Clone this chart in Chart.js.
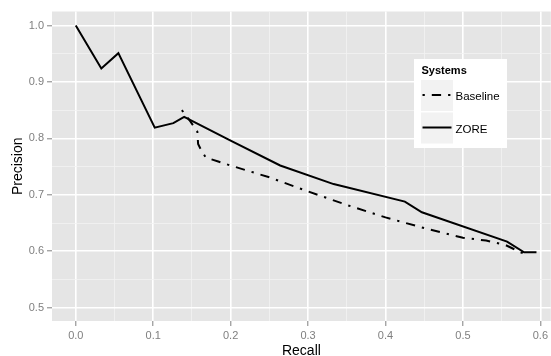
<!DOCTYPE html>
<html>
<head>
<meta charset="utf-8">
<script src="https://cdn.jsdelivr.net/npm/chart.js@4.4.1/dist/chart.umd.min.js"></script>
<style>
  html, body { margin: 0; padding: 0; background: #fff; }
  #wrap { position: relative; width: 551px; height: 356px; }
</style>
</head>
<body>
<div id="wrap"><canvas id="chart"></canvas></div>
<script>
// series values
const zoreRecall = [0, 0.033, 0.055, 0.102, 0.126, 0.14, 0.2, 0.264, 0.333, 0.425, 0.447, 0.557, 0.579, 0.595];
const zorePrecision = [1.0, 0.924, 0.951, 0.819, 0.827, 0.838, 0.796, 0.752, 0.719, 0.688, 0.669, 0.617, 0.598, 0.598];

const baseRecall = [0.137, 0.148, 0.157, 0.158, 0.162, 0.168, 0.184, 0.202, 0.25, 0.3, 0.35, 0.4, 0.45, 0.5, 0.53, 0.555, 0.578];
const basePrecision = [0.85, 0.83, 0.812, 0.79, 0.779, 0.766, 0.759, 0.751, 0.731, 0.706, 0.682, 0.66, 0.641, 0.624, 0.619, 0.611, 0.596];

// tick labels (major) and minor grid positions
const xTicks = [0.0, 0.1, 0.2, 0.3, 0.4, 0.5, 0.6];
const xMinor = [0.05, 0.15, 0.25, 0.35, 0.45, 0.55];
const yTicks = [0.5, 0.6, 0.7, 0.8, 0.9, 1.0];
const yMinor = [0.55, 0.65, 0.75, 0.85, 0.95];

const seriesNames = ["Baseline", "ZORE"];

const toPoints = (xs, ys) => xs.map((x, i) => ({ x: x, y: ys[i] }));
const isMajor = (v, list) => list.some((t) => Math.abs(t - v) < 1e-6);

Chart.defaults.font.family = "'Liberation Sans', Arial, sans-serif";

const gridOpts = (majors) => ({
  drawOnChartArea: true,
  color: (c) => (c.tick && isMajor(c.tick.value, majors) ? "#ffffff" : "#f2f2f2"),
  lineWidth: (c) => (c.tick && isMajor(c.tick.value, majors) ? 1.6 : 0.8),
  tickColor: (c) => (c.tick && isMajor(c.tick.value, majors) ? "#7f7f7f" : "rgba(0,0,0,0)"),
  tickLength: 5,
  tickWidth: 1,
});

// grey panel behind the grid
const panelBg = {
  id: "panelBg",
  beforeDraw: (chart) => {
    const { ctx, chartArea } = chart;
    ctx.save();
    ctx.fillStyle = "#e5e5e5";
    ctx.fillRect(chartArea.left, chartArea.top, chartArea.right - chartArea.left, chartArea.bottom - chartArea.top);
    ctx.restore();
  },
};

// ggplot-style legend inside the panel
const systemsLegend = {
  id: "systemsLegend",
  afterDraw: (chart) => {
    const { ctx } = chart;
    ctx.save();
    ctx.fillStyle = "#ffffff";
    ctx.fillRect(414, 59, 93, 89);

    ctx.fillStyle = "#000000";
    ctx.font = "bold 11px 'Liberation Sans', Arial, sans-serif";
    ctx.textBaseline = "middle";
    ctx.textAlign = "left";
    ctx.fillText("Systems", 421.5, 71);

    const rows = [
      { y: 80, dash: [2.3, 7, 9.3, 7], label: seriesNames[0] },
      { y: 112.5, dash: [], label: seriesNames[1] },
    ];
    rows.forEach((r) => {
      ctx.fillStyle = "#f2f2f2";
      ctx.fillRect(421, r.y, 32, 31);
      ctx.strokeStyle = "#000000";
      ctx.lineWidth = 2;
      ctx.setLineDash(r.dash);
      ctx.beginPath();
      ctx.moveTo(422.5, r.y + 15);
      ctx.lineTo(451.5, r.y + 15);
      ctx.stroke();
      ctx.setLineDash([]);
      ctx.fillStyle = "#000000";
      ctx.font = "11.5px 'Liberation Sans', Arial, sans-serif";
      ctx.fillText(r.label, 455.5, r.y + 17);
    });
    ctx.restore();
  },
};

new Chart(document.getElementById("chart"), {
  type: "scatter",
  data: {
    datasets: [
      {
        label: seriesNames[1],
        data: toPoints(zoreRecall, zorePrecision),
        showLine: true,
        borderColor: "#000000",
        borderWidth: 2,
        pointRadius: 0,
        tension: 0,
      },
      {
        label: seriesNames[0],
        data: toPoints(baseRecall, basePrecision),
        showLine: true,
        borderColor: "#000000",
        borderWidth: 2,
        borderDash: [2.3, 7, 9.3, 7],
        pointRadius: 0,
        tension: 0,
      },
    ],
  },
  options: {
    responsive: true,
    maintainAspectRatio: false,
    animation: false,
    layout: { padding: { top: 11.5, right: 0, left: 0, bottom: 0 } },
    plugins: {
      legend: { display: false },
      tooltip: { enabled: false },
    },
    scales: {
      x: {
        type: "linear",
        min: -0.0307,
        max: 0.6135,
        afterBuildTicks: (scale) => {
          scale.ticks = xTicks.concat(xMinor).sort((a, b) => a - b).map((v) => ({ value: v }));
        },
        afterFit: (scale) => {
          scale.height = 35;
        },
        ticks: {
          color: "#7f7f7f",
          font: { size: 11 },
          padding: 3,
          maxRotation: 0,
          autoSkip: false,
          callback: (v) => (isMajor(v, xTicks) ? v.toFixed(1) : ""),
        },
        grid: gridOpts(xTicks),
        border: { display: false },
        title: {
          display: true,
          text: "Recall",
          color: "#000000",
          font: { size: 14, lineHeight: 1 },
          padding: { top: 0, bottom: -2 },
        },
      },
      y: {
        type: "linear",
        min: 0.4764,
        max: 1.0248,
        afterBuildTicks: (scale) => {
          scale.ticks = yTicks.concat(yMinor).sort((a, b) => a - b).map((v) => ({ value: v }));
        },
        afterFit: (scale) => {
          scale.width = 52;
        },
        ticks: {
          color: "#7f7f7f",
          font: { size: 11 },
          padding: 3,
          autoSkip: false,
          callback: (v) => (isMajor(v, yTicks) ? v.toFixed(1) : ""),
        },
        grid: gridOpts(yTicks),
        border: { display: false },
        title: {
          display: true,
          text: "Precision",
          color: "#000000",
          font: { size: 14, lineHeight: 1 },
          padding: { top: 11, bottom: 0 },
        },
      },
    },
  },
  plugins: [panelBg, systemsLegend],
});
</script>
</body>
</html>
